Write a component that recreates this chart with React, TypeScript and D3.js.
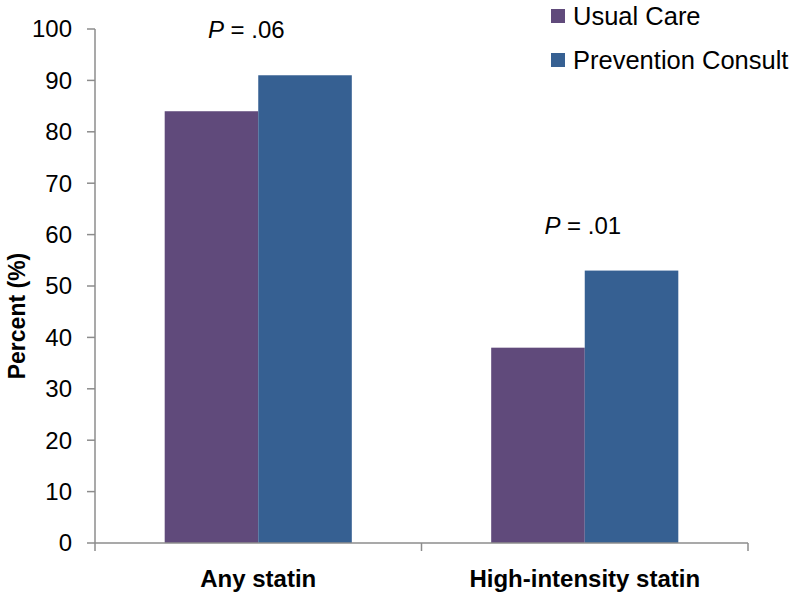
import React from "react";
import * as d3 from "d3";

const categories = ["Any statin", "High-intensity statin"];
const seriesNames = ["Usual Care", "Prevention Consult"];
const usualCare = [84, 38];
const preventionConsult = [91, 53];
const pLabels = [".06", ".01"];
const yTicks = [0, 10, 20, 30, 40, 50, 60, 70, 80, 90, 100];
const colors = ["#604A7B", "#366092"];

const W = 795;
const H = 593;
const FONT = "'Liberation Sans', Arial, Helvetica, sans-serif";
const pOffsets = [-12, -2];

export default function App() {
  const y = d3.scaleLinear().domain([0, 100]).range([543, 29]);
  const x0 = d3.scaleBand<string>().domain(categories).range([95, 748]).paddingInner(0).paddingOuter(0);
  const x1 = d3.scaleBand<string>().domain(seriesNames).range([0, x0.bandwidth()]).paddingInner(0).paddingOuter(0.745);
  const values = [usualCare, preventionConsult];
  const axisColor = "#8c8c8c";

  return (
    <svg width={W} height={H} style={{ position: "absolute", left: 0, top: 0, background: "#fff" }} fontFamily={FONT}>
      {categories.map((c, ci) =>
        seriesNames.map((s, si) => (
          <rect
            key={c + s}
            x={(x0(c) as number) + (x1(s) as number)}
            y={y(values[si][ci])}
            width={x1.bandwidth()}
            height={y(0) - y(values[si][ci])}
            fill={colors[si]}
          />
        ))
      )}
      <line x1={95} x2={95} y1={y(100)} y2={y(0)} stroke={axisColor} strokeWidth={1.5} />
      {yTicks.map((t) => (
        <g key={t}>
          <line x1={87} x2={95} y1={y(t)} y2={y(t)} stroke={axisColor} strokeWidth={1.5} />
          <text x={72} y={y(t)} dy="0.35em" textAnchor="end" fontSize={24} fill="#000">
            {t}
          </text>
        </g>
      ))}
      <line x1={95} x2={748} y1={y(0)} y2={y(0)} stroke={axisColor} strokeWidth={1.5} />
      {[...categories.map((c) => x0(c) as number), 748].map((xv, i) => (
        <line key={i} x1={xv} x2={xv} y1={y(0)} y2={551} stroke={axisColor} strokeWidth={1.5} />
      ))}
      {categories.map((c) => (
        <text key={c} x={(x0(c) as number) + x0.bandwidth() / 2} y={587} textAnchor="middle" fontSize={24} fontWeight="bold" fill="#000">
          {c}
        </text>
      ))}
      <text transform={`translate(25,316) rotate(-90)`} textAnchor="middle" fontSize={23} fontWeight="bold" fill="#000">
        Percent (%)
      </text>
      {categories.map((c, ci) => (
        <text
          key={"p" + c}
          x={(x0(c) as number) + x0.bandwidth() / 2 + pOffsets[ci]}
          y={y(Math.max(usualCare[ci], preventionConsult[ci])) - 37}
          textAnchor="middle"
          fontSize={24}
          fill="#000"
        >
          <tspan fontStyle="italic">P</tspan>
          {" = " + pLabels[ci]}
        </text>
      ))}
      {seriesNames.map((s, si) => (
        <g key={s} transform={`translate(551,${9 + si * 44})`}>
          <rect x={0} y={0} width={14} height={14} fill={colors[si]} />
          <text x={22} y={7} dy="0.36em" fontSize={25.5} fill="#000">
            {s}
          </text>
        </g>
      ))}
    </svg>
  );
}
